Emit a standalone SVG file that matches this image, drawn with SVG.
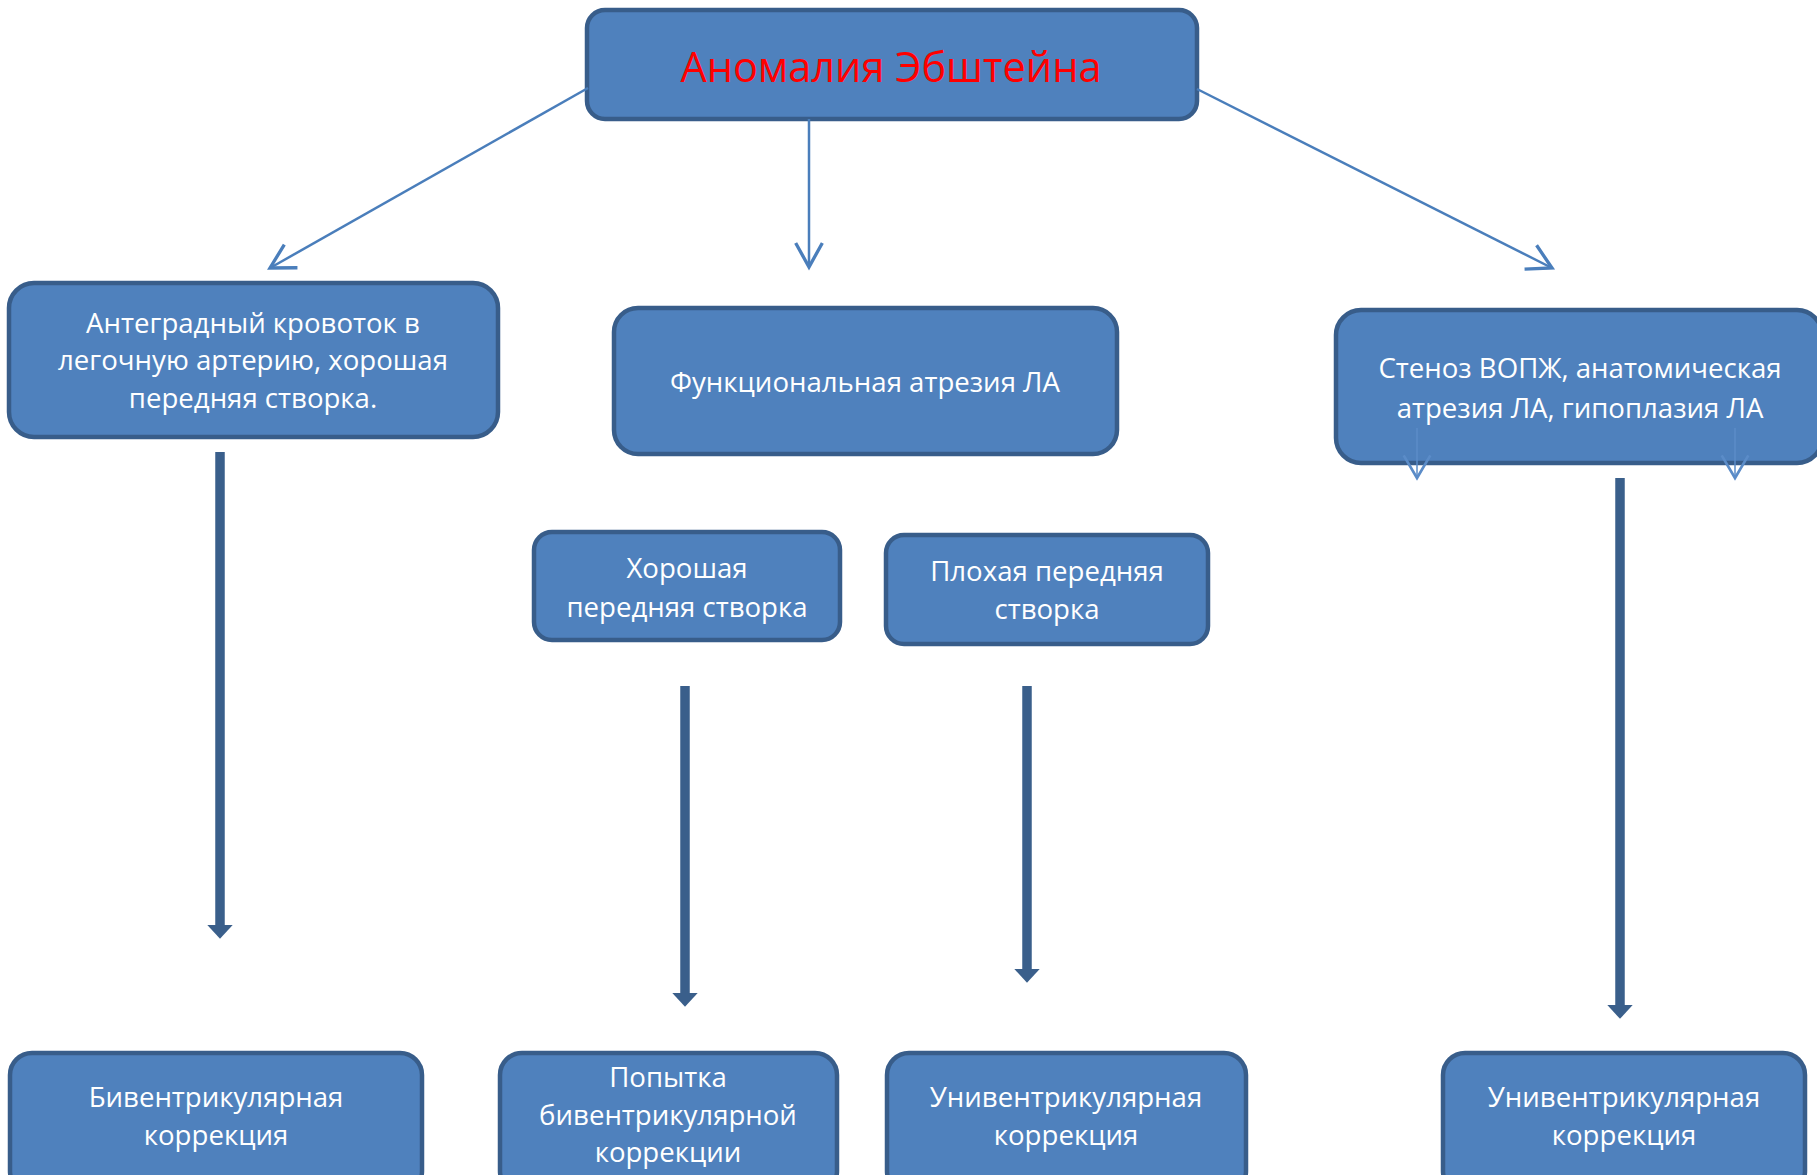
<svg xmlns="http://www.w3.org/2000/svg" width="1817" height="1175" viewBox="0 0 1817 1175">
<style>
.box{fill:#4F81BD;stroke:#385D8A;stroke-width:4.5}
.t{font-family:"Open Sans","Noto Sans",sans-serif;font-size:27.6px;fill:#FFFFFF;text-anchor:middle}
.title{font-family:"Open Sans","Noto Sans",sans-serif;font-size:41.5px;fill:#FF0000;text-anchor:middle}
.thin{stroke:#4A7EBB;stroke-width:2.5;fill:none}
.thin2{stroke:#5B8CC8;stroke-width:1.5;fill:none}
.thick{stroke:#3A5F8B;stroke-width:9.5;fill:none}
</style>
<defs>
<marker id="open" markerUnits="userSpaceOnUse" markerWidth="40" markerHeight="40" viewBox="-25 -15 30 30" refX="0" refY="0" orient="auto">
<path d="M-18,-10 L0,0 L-18,10" fill="none" stroke="#4A7EBB" stroke-width="2.5"/>
</marker>
<marker id="open2" markerUnits="userSpaceOnUse" markerWidth="40" markerHeight="40" viewBox="-25 -15 30 30" refX="0" refY="0" orient="auto">
<path d="M-17,-10 L0,0 L-17,10" fill="none" stroke="#5B8CC8" stroke-width="2"/>
</marker>
<marker id="solid" markerUnits="userSpaceOnUse" markerWidth="30" markerHeight="30" viewBox="-2 -13 16 26" refX="0" refY="0" orient="auto">
<path d="M0,-11 L12,0 L0,11 Z" fill="#3A5F8B"/>
</marker>
</defs>

<g id="n-top">
<rect class="box" x="587" y="10" width="610" height="109" rx="18"/>
<text class="title" x="891" y="82">Аномалия Эбштейна</text>
</g>
<g id="n-antegrade">
<rect class="box" x="9" y="283" width="489" height="154" rx="25"/>
<text class="t" x="253" y="333">Антеградный кровоток в</text>
<text class="t" x="253" y="370">легочную артерию, хорошая</text>
<text class="t" x="253" y="408">передняя створка.</text>
</g>
<g id="n-functional">
<rect class="box" x="614" y="308" width="503" height="146" rx="24"/>
<text class="t" x="865" y="392">Функциональная атрезия ЛА</text>
</g>
<g id="n-stenosis">
<rect class="box" x="1336" y="310" width="486" height="153" rx="25"/>
<text class="t" x="1580" y="378">Стеноз ВОПЖ, анатомическая</text>
<text class="t" x="1580" y="418">атрезия ЛА, гипоплазия ЛА</text>
</g>
<g id="n-good">
<rect class="box" x="534" y="532" width="306" height="108" rx="18"/>
<text class="t" x="687" y="578">Хорошая</text>
<text class="t" x="687" y="617">передняя створка</text>
</g>
<g id="n-bad">
<rect class="box" x="886" y="535" width="322" height="109" rx="18"/>
<text class="t" x="1047" y="581">Плохая передняя</text>
<text class="t" x="1047" y="619">створка</text>
</g>
<g id="n-biv">
<rect class="box" x="10" y="1053" width="412" height="140" rx="22"/>
<text class="t" x="216" y="1107">Бивентрикулярная</text>
<text class="t" x="216" y="1145">коррекция</text>
</g>
<g id="n-try">
<rect class="box" x="500" y="1053" width="337" height="140" rx="22"/>
<text class="t" x="668" y="1087">Попытка</text>
<text class="t" x="668" y="1125">бивентрикулярной</text>
<text class="t" x="668" y="1162">коррекции</text>
</g>
<g id="n-univ1">
<rect class="box" x="887" y="1053" width="359" height="140" rx="22"/>
<text class="t" x="1066" y="1107">Унивентрикулярная</text>
<text class="t" x="1066" y="1145">коррекция</text>
</g>
<g id="n-univ2">
<rect class="box" x="1443" y="1053" width="362" height="140" rx="22"/>
<text class="t" x="1624" y="1107">Унивентрикулярная</text>
<text class="t" x="1624" y="1145">коррекция</text>
</g>

<g id="connectors">
<line class="thin" x1="588" y1="88" x2="270" y2="268" marker-end="url(#open)"/>
<line class="thin" x1="809" y1="119" x2="809" y2="267" marker-end="url(#open)"/>
<line class="thin" x1="1197" y1="89" x2="1552" y2="268" marker-end="url(#open)"/>
<line class="thin2" x1="1417" y1="428" x2="1417" y2="478" marker-end="url(#open2)"/>
<line class="thin2" x1="1735" y1="428" x2="1735" y2="478" marker-end="url(#open2)"/>
<line class="thick" x1="220" y1="452" x2="220" y2="925" marker-end="url(#solid)"/>
<line class="thick" x1="685" y1="686" x2="685" y2="993" marker-end="url(#solid)"/>
<line class="thick" x1="1027" y1="686" x2="1027" y2="969" marker-end="url(#solid)"/>
<line class="thick" x1="1620" y1="478" x2="1620" y2="1005" marker-end="url(#solid)"/>
</g>
</svg>
